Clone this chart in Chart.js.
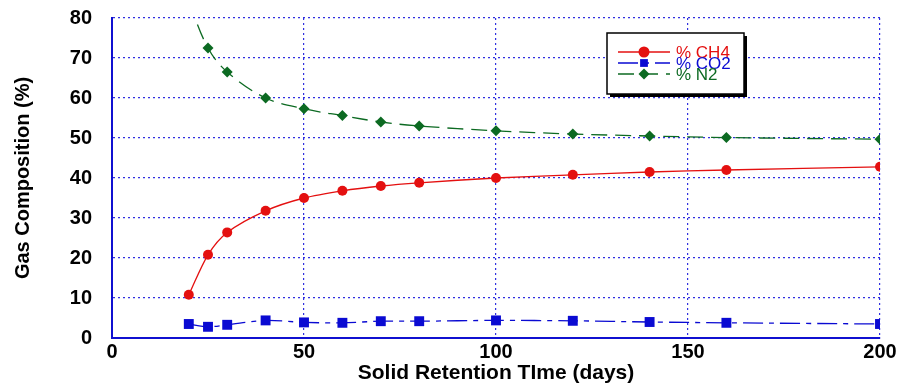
<!DOCTYPE html>
<html>
<head>
<meta charset="utf-8">
<script src="https://cdn.jsdelivr.net/npm/chart.js@4/dist/chart.umd.min.js"></script>
<style>
  html,body{margin:0;padding:0;background:#fff;}
  #wrap{width:904px;height:390px;position:relative;}
</style>
</head>
<body>
<div id="wrap"><canvas id="gas-chart" width="904" height="390"></canvas></div>
<script>
/* Gas composition vs solid retention time */

var SRT_DAYS = [20, 25, 30, 40, 50, 60, 70, 80, 100, 120, 140, 160, 200];
var CH4_PCT  = [10.8, 20.8, 26.4, 31.8, 35.0, 36.8, 38.0, 38.8, 40.0, 40.8, 41.5, 42.0, 42.8];
var CO2_PCT  = [3.5, 2.8, 3.3, 4.4, 3.9, 3.8, 4.2, 4.2, 4.4, 4.3, 4.0, 3.8, 3.5];
var N2_PCT   = [84.0, 72.5, 66.5, 60.0, 57.3, 55.6, 54.0, 53.0, 51.8, 51.0, 50.5, 50.1, 49.7];
var X_TICKS  = [0, 50, 100, 150, 200];
var Y_TICKS  = [0, 10, 20, 30, 40, 50, 60, 70, 80];
var SERIES_LABELS = ['% CH4', '% CO2', '% N2'];

var RED = '#e41010', BLUE = '#0a0ad2', GREEN = '#0c6a22';
var GRID = '#3030e0';

function pts(ys){
  return SRT_DAYS.map(function(x, i){ return {x:x, y:ys[i]}; });
}

// hide marker for the N2 value that is off the top of the plot
var n2Radius = N2_PCT.map(function(v){ return v > 80 ? 0 : 5.5; });

/* ── boxed legend drawn inside the plot, like the original ── */
var boxLegend = {
  id:'boxLegend',
  afterDraw:function(chart){
    var ctx = chart.ctx;
    var x0 = 607, y0 = 33, w = 137, h = 61;
    ctx.save();
    ctx.fillStyle = '#000';
    ctx.fillRect(x0+3, y0+3, w, h);
    ctx.fillStyle = '#fff';
    ctx.fillRect(x0, y0, w, h);
    ctx.strokeStyle = '#000';
    ctx.lineWidth = 1.5;
    ctx.strokeRect(x0, y0, w, h);

    var rows = [52, 63, 74];
    chart.data.datasets.forEach(function(ds, i){
      var y = rows[i];
      ctx.strokeStyle = ds.borderColor;
      ctx.lineWidth = 1.3;
      ctx.setLineDash(ds.borderDash || []);
      ctx.beginPath();
      ctx.moveTo(618, y); ctx.lineTo(670, y);
      ctx.stroke();
      ctx.setLineDash([]);
      ctx.fillStyle = ds.pointBackgroundColor;
      Chart.helpers.drawPoint(ctx, {
        pointStyle:ds.pointStyle, radius:5.5, rotation:0, borderWidth:0
      }, 644, y);
      ctx.font = '17px "Liberation Sans", Arial, sans-serif';
      ctx.fillStyle = ds.borderColor;
      ctx.textBaseline = 'middle';
      ctx.textAlign = 'left';
      ctx.fillText(ds.label, 676, y + 1);
    });
    ctx.restore();
  }
};

var tickFont = {family:'"Liberation Sans", Arial, sans-serif', size:20, weight:'bold'};
var xTitleFont = {family:'"Liberation Sans", Arial, sans-serif', size:21, weight:'bold'};
var yTitleFont = {family:'"Liberation Sans", Arial, sans-serif', size:20, weight:'bold'};

new Chart(document.getElementById('gas-chart'), {
  type:'line',
  data:{
    datasets:[
      {
        label:SERIES_LABELS[0], data:pts(CH4_PCT),
        borderColor:RED, backgroundColor:RED, pointBackgroundColor:RED,
        borderWidth:1.3, pointStyle:'circle', pointRadius:5, pointBorderWidth:0,
        tension:0.3
      },
      {
        label:SERIES_LABELS[1], data:pts(CO2_PCT),
        borderColor:BLUE, backgroundColor:BLUE, pointBackgroundColor:BLUE,
        borderWidth:1.3, borderDash:[20,6,5,6], pointStyle:'rect', pointRadius:7, pointBorderWidth:0,
        tension:0.3
      },
      {
        label:SERIES_LABELS[2], data:pts(N2_PCT),
        borderColor:GREEN, backgroundColor:GREEN, pointBackgroundColor:GREEN,
        borderWidth:1.3, borderDash:[16,8], pointStyle:'rectRot', pointRadius:n2Radius, pointBorderWidth:0,
        tension:0.35
      }
    ]
  },
  options:{
    responsive:false, animation:false,
    layout:{autoPadding:false, padding:{left:0, right:24, top:18, bottom:0}},
    plugins:{legend:{display:false}, tooltip:{enabled:false}},
    scales:{
      x:{
        type:'linear', min:0, max:200,
        afterBuildTicks:function(s){ s.ticks = X_TICKS.map(function(v){ return {value:v}; }); },
        afterFit:function(s){ s.height = 52; s.paddingLeft = 0; s.paddingRight = 0; },
        grid:{color:GRID, lineWidth:1.2, drawTicks:false},
        border:{color:'#1010d0', width:2, dash:[2,3]},
        ticks:{color:'#000', font:tickFont, padding:2, maxRotation:0, autoSkip:false},
        title:{display:true, text:'Solid Retention TIme (days)', color:'#000', font:xTitleFont, padding:{top:0, bottom:4}}
      },
      y:{
        min:0, max:80,
        afterBuildTicks:function(s){ s.ticks = Y_TICKS.map(function(v){ return {value:v}; }); },
        afterFit:function(s){ s.width = 112; s.paddingTop = 0; s.paddingBottom = 0; },
        grid:{color:GRID, lineWidth:1.2, drawTicks:false},
        border:{color:'#1010d0', width:2, dash:[2,3]},
        ticks:{color:'#000', font:tickFont, padding:20, autoSkip:false},
        title:{display:true, text:'Gas Composition (%)', color:'#000', font:yTitleFont, padding:{top:11, bottom:0}}
      }
    }
  },
  plugins:[boxLegend]
});
</script>
</body>
</html>
